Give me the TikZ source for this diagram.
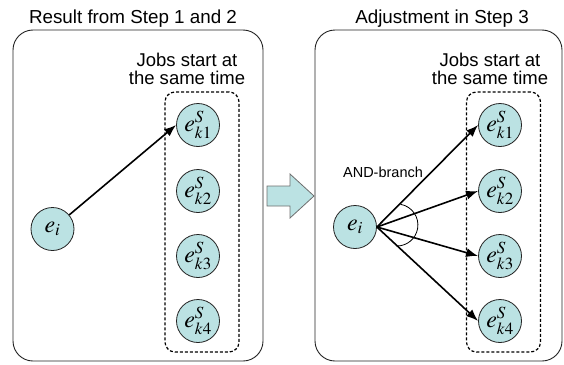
\documentclass[tikz,border=0pt]{standalone}
\usepackage{mathptmx}
\usepackage[no-math]{fontspec}
\setmainfont{Liberation Sans}
\usetikzlibrary{arrows.meta, calc, positioning}
\definecolor{job-fill}{HTML}{BBE2E3}
\definecolor{job-ink}{HTML}{222222}
\definecolor{hint-gray}{HTML}{6E6E6E}
\DeclareMathSizes{24}{24}{17}{12}

\begin{document}
\begin{tikzpicture}[x=1pt, y=1pt, >=Latex,
  panel/.style={draw=job-ink, line width=0.9pt, rounded corners=20pt, minimum width=250pt, minimum height=331pt},
  group/.style={draw=black, line width=1.2pt, dash pattern=on 3pt off 2pt, rounded corners=10pt, minimum width=74pt, minimum height=260pt},
  job/.style={circle, draw=job-ink, line width=0.8pt, fill=job-fill, minimum size=43pt, inner sep=0pt, font=\fontsize{24}{26}\selectfont},
  headline/.style={font=\fontsize{18.8}{16}\selectfont, inner sep=0pt},
  note/.style={font=\fontsize{18.5}{17.5}\selectfont, align=center, inner sep=0pt, anchor=north},
  link/.style={-{Latex[length=12pt, width=9pt]}, line width=1.6pt}]
  \useasboundingbox (0,0) rectangle (564,-364);

  % the two panels and their titles
  \node[panel] (panel-l) at (138,-195.5) {};
  \node[panel, minimum width=247pt] (panel-r) at (438.5,-195.5) {};
  \node[headline, anchor=base] (title-l) at (133,-23) {Result from Step 1 and 2};
  \node[headline, anchor=base] (title-r) at (442,-23) {Adjustment in Step 3};

  % dashed groups of jobs that start together
  \node[group] (group-l) at (202,-222) {};
  \node[group] (group-r) at (503.5,-222) {};
  \node[note] (note-l) at (187,-53) {Jobs start at\\the same time};
  \node[note] (note-r) at (490,-53) {Jobs start at\\the same time};

  % jobs
  \node[job] (li) at (52.5,-229) {$e_i$};
  \node[job] (ri) at (355,-227) {$e_i$};
  \foreach \row/\y in {1/-125, 2/-191, 3/-256, 4/-321} {
    \node[job] (l\row) at (198,\y) {$e^S_{k\row}$};
    \node[job] (r\row) at (500,\y) {$e^S_{k\row}$};
  }

  % before: a single successor
  \draw[link] (li) -- (l1.west);

  % step arrow
  \draw[hint-gray, fill=job-fill, line width=0.8pt]
    (267,-186) -- (290,-186) -- (290,-174) -- (314,-196) -- (290,-218)
    -- (290,-206) -- (267,-206) -- cycle;

  % after: AND-branch to all jobs
  \foreach \row in {1,...,4}
    \draw[link] (ri.east) -- (r\row.west);
  \draw[line width=0.8pt] ($(ri.east)+(20,2)$) ++(80:21) arc[start angle=80, end angle=-90, radius=21pt];
  \node[font=\fontsize{14.5}{16}\selectfont, anchor=base] (and-tag) at (383,-177) {AND-branch};
\end{tikzpicture}
\end{document}
